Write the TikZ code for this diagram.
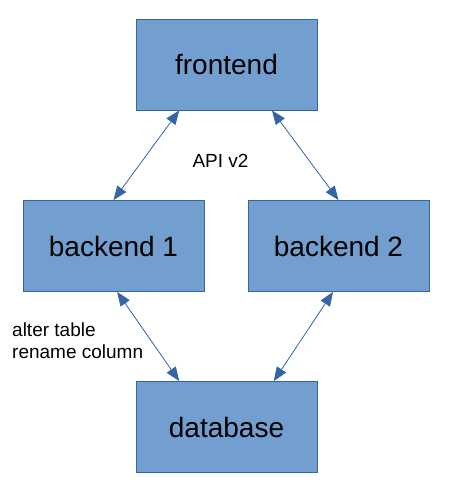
\documentclass[tikz,border=0pt]{standalone}
\usepackage{fontspec}
\setmainfont{Liberation Sans}
\usepackage{tikz}
\usetikzlibrary{arrows.meta,positioning,calc}
\usepackage{xcolor}
\definecolor{boxfill}{HTML}{729FCF}
\definecolor{boxline}{HTML}{3465A4}

\tikzset{
    svc/.style={draw=boxline, line width=0.8pt, fill=boxfill, minimum width=181pt, minimum height=91pt, inner sep=0pt, font=\fontsize{28}{32}\selectfont},
    link/.style={boxline, line width=0.8pt, {Triangle[length=14pt,width=11pt]}-{Triangle[length=14pt,width=11pt]}},
    note/.style={font=\fontsize{19}{22}\selectfont, inner sep=0pt}
}

\begin{document}
\begin{tikzpicture}[x=1pt, y=-1pt]
    \useasboundingbox (0,0) rectangle (448,502);

    % boxes
    \node[svc] (frontend) at (226.5,64.5) {frontend};
    \node[svc] (backend1) at (113.5,246) {backend 1};
    \node[svc] (backend2) at (338.5,246) {backend 2};
    \node[svc] (database) at (226.5,427) {database};

    % connections
    \draw[link] ($(frontend.south west)!0.24!(frontend.south east)$) -- (backend1.north);
    \draw[link] ($(frontend.south west)!0.75!(frontend.south east)$) -- (backend2.north);
    \draw[link] ($(backend1.south west)!0.52!(backend1.south east)$) -- ($(database.north west)!0.24!(database.north east)$);
    \draw[link] ($(backend2.south west)!0.47!(backend2.south east)$) -- ($(database.north west)!0.76!(database.north east)$);

    % labels
    \node[note] (api) at (220.5,161) {API v2};
    \node[note, align=left, anchor=west] (migration) at (12,341) {alter table\\rename column};
\end{tikzpicture}
\end{document}
